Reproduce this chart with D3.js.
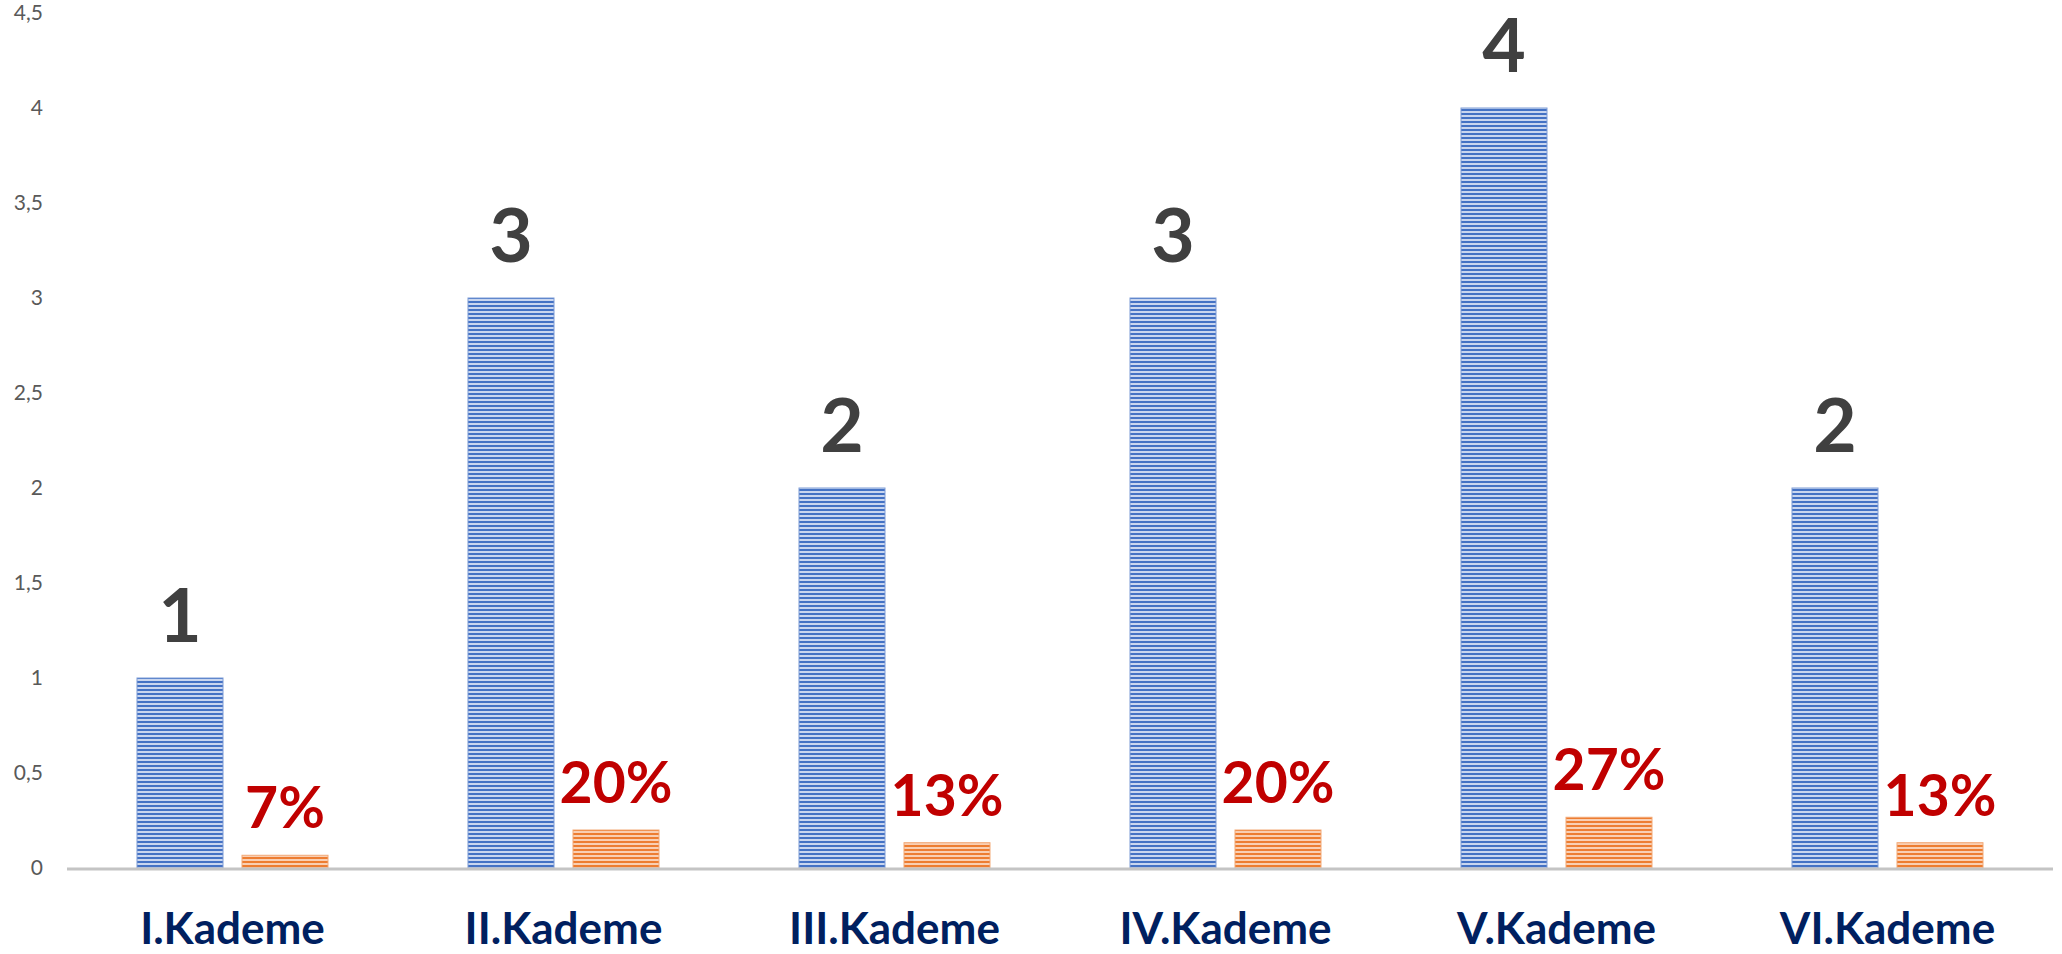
<!DOCTYPE html>
<html>
<head>
<meta charset="utf-8">
<script src="https://cdn.jsdelivr.net/npm/d3@7"></script>
<style>
  body { margin: 0; background: #fff; }
  .tick text { font-family: Lato, "Open Sans", sans-serif; }
</style>
</head>
<body>
<div id="chart"></div>
<script>
var categories = ["I.Kademe", "II.Kademe", "III.Kademe", "IV.Kademe", "V.Kademe", "VI.Kademe"];
var counts = [1, 3, 2, 3, 4, 2];
var shares = [0.067, 0.2, 0.133, 0.2, 0.267, 0.133];
var yTicks = [0, 0.5, 1, 1.5, 2, 2.5, 3, 3.5, 4, 4.5];

var svgWidth = 2062;
var svgHeight = 954;

var margin = {
  top: 13,
  right: 9,
  bottom: 86,
  left: 67
};

var width = svgWidth - margin.left - margin.right;
var height = svgHeight - margin.top - margin.bottom;

var svg = d3.select("#chart")
  .append("svg")
  .attr("width", svgWidth)
  .attr("height", svgHeight);

// striped fills like the Excel pattern
var defs = svg.append("defs");
function stripes(id, dark, light) {
  var p = defs.append("pattern")
    .attr("id", id)
    .attr("patternUnits", "userSpaceOnUse")
    .attr("width", 8)
    .attr("height", 4);
  p.append("rect").attr("width", 8).attr("height", 4).attr("fill", light);
  p.append("rect").attr("width", 8).attr("height", 2).attr("fill", dark);
}
stripes("blueStripe", "#4472c4", "#c9d6ef");
stripes("orangeStripe", "#ed7d31", "#f9cfb3");

var chartGroup = svg.append("g")
  .attr("transform", `translate(${margin.left}, ${margin.top})`);

var xScale = d3.scaleBand()
  .domain(categories)
  .range([0, width]);

var yScale = d3.scaleLinear()
  .domain([0, 4.5])
  .range([height, 0]);

var barWidth = 86;
var barGap = 19;

// y axis, labels only
var leftAxis = d3.axisLeft(yScale)
  .tickValues(yTicks)
  .tickSize(0)
  .tickPadding(24)
  .tickFormat(d => String(d).replace(".", ","));

var yAxis = chartGroup.append("g").call(leftAxis);
yAxis.select(".domain").remove();
yAxis.selectAll("text")
  .attr("fill", "#595959")
  .attr("font-size", "21px");

var groups = chartGroup.selectAll(".cat")
  .data(categories)
  .enter()
  .append("g")
  .attr("class", "cat")
  .attr("transform", d => `translate(${xScale(d) + xScale.bandwidth() / 2}, 0)`);

// count bars
groups.append("rect")
  .attr("x", -barWidth - barGap / 2)
  .attr("y", (d, i) => yScale(counts[i]))
  .attr("width", barWidth)
  .attr("height", (d, i) => height - yScale(counts[i]))
  .attr("fill", "url(#blueStripe)")
  .attr("stroke", "#7d9bd6")
  .attr("stroke-width", 1);

// share bars
groups.append("rect")
  .attr("x", barGap / 2)
  .attr("y", (d, i) => yScale(shares[i]))
  .attr("width", barWidth)
  .attr("height", (d, i) => height - yScale(shares[i]))
  .attr("fill", "url(#orangeStripe)")
  .attr("stroke", "#f3a977")
  .attr("stroke-width", 1);

// value labels
groups.append("text")
  .attr("x", -barWidth / 2 - barGap / 2)
  .attr("y", (d, i) => yScale(counts[i]) - 36)
  .attr("text-anchor", "middle")
  .attr("fill", "#404040")
  .attr("font-family", "Lato, sans-serif")
  .attr("font-weight", "bold")
  .attr("font-size", "75px")
  .text((d, i) => counts[i]);

groups.append("text")
  .attr("x", barWidth / 2 + barGap / 2)
  .attr("y", (d, i) => yScale(shares[i]) - 27)
  .attr("text-anchor", "middle")
  .attr("fill", "#c00000")
  .attr("font-family", "Lato, sans-serif")
  .attr("font-weight", "bold")
  .attr("font-size", "57px")
  .text((d, i) => d3.format(".0%")(shares[i]));

// x axis line
chartGroup.append("line")
  .attr("x1", 0)
  .attr("x2", width)
  .attr("y1", height + 1)
  .attr("y2", height + 1)
  .attr("stroke", "#c4c4c4")
  .attr("stroke-width", 3);

// category labels
groups.append("text")
  .attr("x", 0)
  .attr("y", height + 76)
  .attr("text-anchor", "middle")
  .attr("fill", "#002060")
  .attr("font-family", "Lato, sans-serif")
  .attr("font-weight", "bold")
  .attr("font-size", "44px")
  .text(d => d);
</script>
</body>
</html>
